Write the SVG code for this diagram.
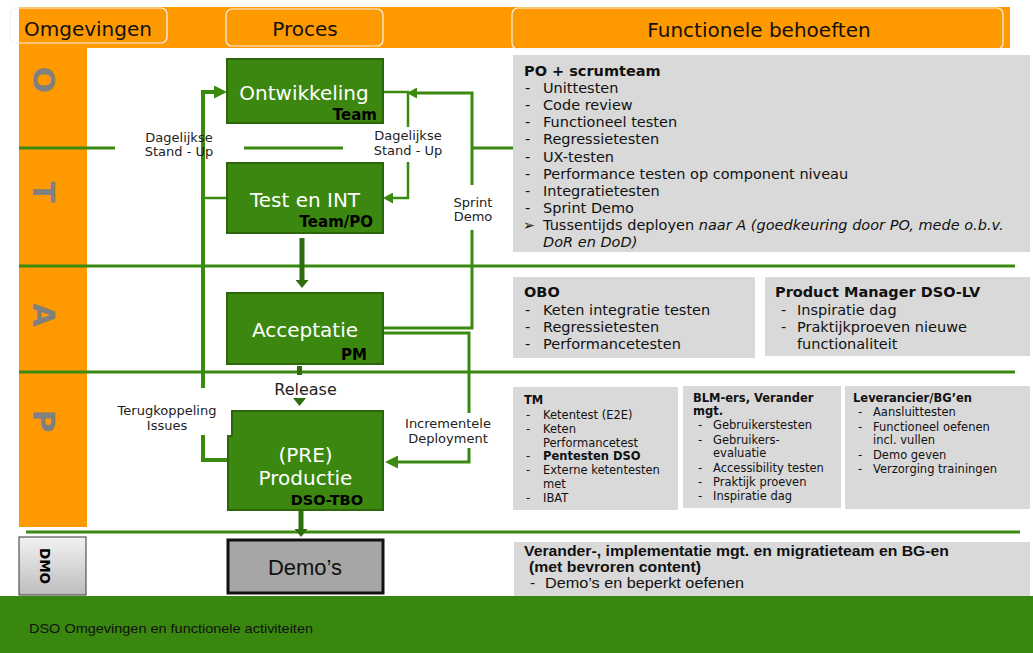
<svg xmlns="http://www.w3.org/2000/svg" width="1033" height="653" viewBox="0 0 1033 653">
<defs>
<style>
.hdr{font-family:"DejaVu Sans",Verdana,sans-serif;font-size:20px;fill:#111}
.hbox{fill:none;stroke:#f4f4f4;stroke-width:1.2}
.let{font-family:"DejaVu Sans",Verdana,sans-serif;font-weight:bold;font-size:31px;fill:#808080;text-anchor:middle}
.bx{fill:#3b870f;stroke:#2c660b;stroke-width:2}
.bt{font-family:"DejaVu Sans",Verdana,sans-serif;font-size:20px;fill:#fff;text-anchor:middle}
.own{font-family:"DejaVu Sans",Verdana,sans-serif;font-weight:bold;font-size:15px;fill:#000;text-anchor:end}
.lbl{font-family:"DejaVu Sans",Verdana,sans-serif;font-size:13px;fill:#222;text-anchor:middle}
.wb{fill:#fff}
.gb{fill:#d9d9d9}
.t14{font-family:"DejaVu Sans",Verdana,sans-serif;font-size:14.5px;fill:#111}
.t11{font-family:"DejaVu Sans",Verdana,sans-serif;font-size:11.5px;fill:#111}
.b{font-weight:bold}
.i{font-style:italic}
.row{stroke:#3a8a10;stroke-width:3;fill:none}
.ln{fill:none;stroke:#3a8a10;stroke-width:3}
.ln4{fill:none;stroke:#3a8a10;stroke-width:4}
.ln2{fill:none;stroke:#3a8a10;stroke-width:2.5}
.thk{fill:none;stroke:#2e6d0c;stroke-width:5}
.ar{font-family:"Liberation Sans",Arial,sans-serif;fill:#111}
</style>
<marker id="a1" markerUnits="userSpaceOnUse" markerWidth="13" markerHeight="13" refX="4" refY="6.5" orient="auto"><path d="M0,0 L13,6.5 L0,13 z" fill="#3a8a10"/></marker>
<marker id="a2" markerUnits="userSpaceOnUse" markerWidth="10" markerHeight="11" refX="3" refY="5.5" orient="auto"><path d="M0,0 L10,5.5 L0,11 z" fill="#3a8a10"/></marker>
<marker id="a3" markerUnits="userSpaceOnUse" markerWidth="8" markerHeight="13" refX="2" refY="6.5" orient="auto"><path d="M0,0 L8,6.5 L0,13 z" fill="#2e6d0c"/></marker>
<linearGradient id="dmo" x1="0" y1="0" x2="0" y2="1"><stop offset="0" stop-color="#f2f2f2"/><stop offset="1" stop-color="#bdbdbd"/></linearGradient>
</defs>

<!-- header band and left column -->
<g id="header">
<rect x="19" y="7" width="991" height="41" fill="#ff9900"/>
<rect x="19" y="48" width="68" height="479" fill="#ff9900"/>
<rect class="hbox" x="10" y="8" width="157" height="35" rx="6"/>
<rect class="hbox" x="226" y="9" width="157" height="37" rx="6"/>
<rect class="hbox" x="512" y="8" width="491" height="41" rx="6"/>
<text class="hdr" x="24" y="36">Omgevingen</text>
<text class="hdr" x="305" y="36" text-anchor="middle">Proces</text>
<text class="hdr" x="759" y="37" text-anchor="middle">Functionele behoeften</text>
</g>

<g id="env-letters">
<text class="let" transform="translate(33,80) rotate(90)">O</text>
<text class="let" transform="translate(33,192) rotate(90)">T</text>
<text class="let" transform="translate(33,315) rotate(90)">A</text>
<text class="let" transform="translate(33,421) rotate(90)">P</text>
</g>

<!-- row dividers -->
<g id="rows">
<path class="row" d="M19,148 H115 M244,148 H343 M473,148 H513"/>
<path class="row" d="M19,266 H1015"/>
<path class="row" d="M19,372 H1015"/>
<path class="row" d="M26,532 H1020"/>
</g>

<!-- connectors -->
<g id="connectors">
<path class="ln4" d="M228,460 H203 V92 H218" marker-end="url(#a1)"/>
<path class="ln2" d="M203,198 H227"/>
<path class="ln2" d="M383,92 H408 V198 H390" marker-end="url(#a2)"/>
<path class="ln" d="M383,328 H472 V93 H414" marker-end="url(#a2)"/>
<path class="ln" d="M383,333 H469 V462 H394" marker-end="url(#a1)"/>
<path class="thk" d="M302,238 V282" marker-end="url(#a3)"/>
<path class="thk" d="M299.5,366 V400" marker-end="url(#a3)"/>
<path class="thk" d="M301,510 V531" marker-end="url(#a3)"/>
</g>

<!-- process nodes -->
<g id="ontwikkeling">
<rect class="bx" x="227" y="59" width="156" height="64"/>
<text class="bt" x="304" y="100">Ontwikkeling</text>
<text class="own" x="377" y="120">Team</text>
</g>
<g id="test-int">
<rect class="bx" x="227" y="163" width="156" height="70"/>
<text class="bt" x="305" y="207">Test en INT</text>
<text class="own" x="373" y="227">Team/PO</text>
</g>
<g id="acceptatie">
<rect class="bx" x="227" y="293" width="156" height="71"/>
<text class="bt" x="305" y="337">Acceptatie</text>
<text class="own" x="367" y="360">PM</text>
</g>
<g id="productie">
<path class="bx" d="M232,411 H383 V510 H228 V436 H232 Z"/>
<text class="bt" x="305.5" y="462">(PRE)</text>
<text class="bt" x="305.5" y="485">Productie</text>
<text class="own" x="363" y="505" style="font-size:14.5px">DSO-TBO</text>
</g>
<g id="demos">
<rect x="228" y="540" width="155" height="53" fill="#a6a6a6" stroke="#111" stroke-width="3"/>
<text class="ar" x="305" y="575" text-anchor="middle" style="font-size:22px">Demo’s</text>
</g>
<g id="dmo">
<rect x="19" y="537" width="67" height="58" fill="url(#dmo)" stroke="#333" stroke-width="1"/>
<text transform="translate(39.5,566) rotate(90)" text-anchor="middle" style="font-family:'DejaVu Sans',Verdana,sans-serif;font-weight:bold;font-size:13.5px;fill:#000">DMO</text>
</g>

<!-- connector labels -->
<g id="labels">
<text class="lbl" x="179" y="142">Dagelijkse</text>
<text class="lbl" x="179" y="156">Stand - Up</text>
<rect class="wb" x="371" y="127" width="76" height="35"/>
<text class="lbl" x="408" y="140">Dagelijkse</text>
<text class="lbl" x="408" y="155">Stand - Up</text>
<rect class="wb" x="449" y="185" width="48" height="45"/>
<text class="lbl" x="473" y="207">Sprint</text>
<text class="lbl" x="473" y="221">Demo</text>
<rect class="wb" x="268" y="375" width="74" height="23"/>
<text class="lbl" x="305.5" y="395" style="font-size:16px">Release</text>
<rect class="wb" x="114" y="388" width="106" height="47"/>
<text class="lbl" x="167" y="415">Terugkoppeling</text>
<text class="lbl" x="167" y="430">Issues</text>
<rect class="wb" x="403" y="413" width="91" height="35"/>
<text class="lbl" x="448" y="428">Incrementele</text>
<text class="lbl" x="448" y="443">Deployment</text>
</g>

<!-- functional needs -->
<g id="po-scrumteam">
<rect class="gb" x="513" y="55" width="517" height="197"/>
<text class="t14 b" x="524" y="76">PO + scrumteam</text>
<g class="t14">
<text x="525" y="93.1">-</text><text x="543" y="93.1">Unittesten</text>
<text x="525" y="110.2">-</text><text x="543" y="110.2">Code review</text>
<text x="525" y="127.3">-</text><text x="543" y="127.3">Functioneel testen</text>
<text x="525" y="144.4">-</text><text x="543" y="144.4">Regressietesten</text>
<text x="525" y="161.5">-</text><text x="543" y="161.5">UX-testen</text>
<text x="525" y="178.6">-</text><text x="543" y="178.6">Performance testen op component niveau</text>
<text x="525" y="195.7">-</text><text x="543" y="195.7">Integratietesten</text>
<text x="525" y="212.8">-</text><text x="543" y="212.8">Sprint Demo</text>
<text x="523" y="229.9" style="font-size:14px">➢</text><text x="543" y="229.9">Tussentijds deployen <tspan class="i">naar A (goedkeuring door PO, mede o.b.v.</tspan></text>
<text x="543" y="247" class="i">DoR en DoD)</text>
</g>
</g>

<g id="obo">
<rect class="gb" x="513" y="277" width="242" height="81"/>
<text class="t14 b" x="524" y="297">OBO</text>
<g class="t14">
<text x="525" y="315">-</text><text x="543" y="315">Keten integratie testen</text>
<text x="525" y="332">-</text><text x="543" y="332">Regressietesten</text>
<text x="525" y="349">-</text><text x="543" y="349">Performancetesten</text>
</g>
</g>

<g id="product-manager">
<rect class="gb" x="765" y="277" width="265" height="79"/>
<text class="t14 b" x="775" y="297">Product Manager DSO-LV</text>
<g class="t14">
<text x="781" y="315">-</text><text x="797" y="315">Inspiratie dag</text>
<text x="781" y="332">-</text><text x="797" y="332">Praktijkproeven nieuwe</text>
<text x="797" y="349">functionaliteit</text>
</g>
</g>

<g id="tm">
<rect class="gb" x="513" y="387" width="165" height="123"/>
<text class="t11 b" x="524" y="403.5">TM</text>
<g class="t11">
<text x="526" y="418.5">-</text><text x="543" y="418.5">Ketentest (E2E)</text>
<text x="526" y="432.5">-</text><text x="543" y="432.5">Keten</text>
<text x="543" y="446.5">Performancetest</text>
<text x="526" y="460">-</text><text x="543" y="460" class="b">Pentesten DSO</text>
<text x="526" y="474">-</text><text x="543" y="474">Externe ketentesten</text>
<text x="543" y="488">met</text>
<text x="526" y="502">-</text><text x="543" y="502">IBAT</text>
</g>
</g>

<g id="blm">
<rect class="gb" x="683" y="386" width="158" height="122"/>
<text class="t11 b" x="693" y="402">BLM-ers, Verander</text>
<text class="t11 b" x="693" y="415">mgt.</text>
<g class="t11">
<text x="698" y="429">-</text><text x="713" y="429">Gebruikerstesten</text>
<text x="698" y="443.5">-</text><text x="713" y="443.5">Gebruikers-</text>
<text x="713" y="457">evaluatie</text>
<text x="698" y="471.5">-</text><text x="713" y="471.5">Accessibility testen</text>
<text x="698" y="485.5">-</text><text x="713" y="485.5">Praktijk proeven</text>
<text x="698" y="500">-</text><text x="713" y="500">Inspiratie dag</text>
</g>
</g>

<g id="leverancier">
<rect class="gb" x="845" y="386" width="185" height="123"/>
<text class="t11 b" x="853" y="402">Leverancier/BG’en</text>
<g class="t11">
<text x="858" y="416">-</text><text x="873" y="416">Aansluittesten</text>
<text x="858" y="430.5">-</text><text x="873" y="430.5">Functioneel oefenen</text>
<text x="873" y="444">incl. vullen</text>
<text x="858" y="458.5">-</text><text x="873" y="458.5">Demo geven</text>
<text x="858" y="472.5">-</text><text x="873" y="472.5">Verzorging trainingen</text>
</g>
</g>

<g id="verander">
<rect class="gb" x="514" y="542" width="516" height="56"/>
<text class="ar" x="524" y="556" style="font-size:15px;font-weight:bold" textLength="425" lengthAdjust="spacingAndGlyphs">Verander-, implementatie mgt. en migratieteam en BG-en</text>
<text class="ar" x="529" y="572" style="font-size:15px;font-weight:bold" textLength="172" lengthAdjust="spacingAndGlyphs">(met bevroren content)</text>
<text class="ar" x="530" y="588" style="font-size:15.5px">-</text>
<text class="ar" x="545" y="588" style="font-size:15.5px" textLength="199" lengthAdjust="spacingAndGlyphs">Demo’s en beperkt oefenen</text>
</g>

<g id="footer">
<rect x="0" y="596" width="1033" height="57" fill="#3a870f"/>
<text class="ar" x="29" y="633" style="font-size:13.5px" textLength="284" lengthAdjust="spacingAndGlyphs">DSO Omgevingen en functionele activiteiten</text>
</g>
</svg>
